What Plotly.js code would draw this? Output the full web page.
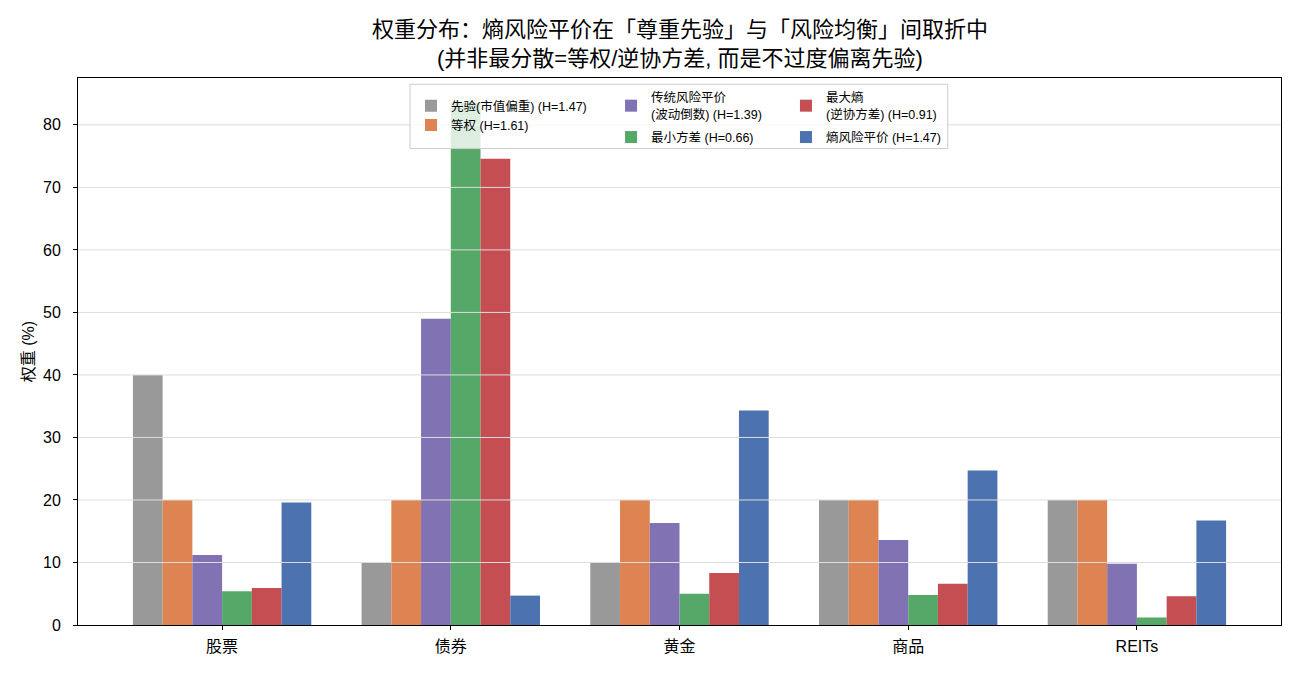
<!DOCTYPE html>
<html>
<head>
<meta charset="utf-8">
<script src="https://cdn.plot.ly/plotly-3.0.1.min.js"></script>
<style>html,body{margin:0;padding:0;background:#fff;}#chart{width:1300px;height:676px;}</style>
</head>
<body>
<div id="chart"></div>
<script>
const categories = ['股票', '债券', '黄金', '商品', 'REITs'];
const seriesNames = [
  '先验(市值偏重) (H=1.47)',
  '等权 (H=1.61)',
  '传统风险平价<br>(波动倒数) (H=1.39)',
  '最小方差 (H=0.66)',
  '最大熵<br>(逆协方差) (H=0.91)',
  '熵风险平价 (H=1.47)'
];
const priorWeights = [40, 10, 10, 20, 20];
const equalWeights = [20, 20, 20, 20, 20];
const volParityWeights = [11.2, 49.0, 16.3, 13.6, 9.8];
const minVarWeights = [5.4, 83.6, 5.0, 4.8, 1.2];
const maxEntropyWeights = [5.9, 74.6, 8.3, 6.6, 4.6];
const entropyRPWeights = [19.6, 4.7, 34.3, 24.7, 16.7];
const yTicks = [0, 10, 20, 30, 40, 50, 60, 70, 80];

const seriesValues = [priorWeights, equalWeights, volParityWeights, minVarWeights, maxEntropyWeights, entropyRPWeights];
const colors = ['#999999', '#DD8452', '#8172B3', '#55A868', '#C44E52', '#4C72B0'];
const legendIds = ['legend', 'legend', 'legend2', 'legend2', 'legend3', 'legend3'];

const FONT = 'Liberation Sans, Arial, "Noto Sans CJK SC", sans-serif';

const data = seriesValues.map((vals, i) => ({
  type: 'bar',
  x: categories,
  y: vals,
  name: seriesNames[i],
  marker: {color: colors[i], line: {width: 0}},
  legend: legendIds[i],
  legendgroup: 'g' + i,
  hoverinfo: 'x+y+name'
}));

const legendCommon = {
  orientation: 'v',
  bgcolor: 'rgba(0,0,0,0)',
  borderwidth: 0,
  font: {family: FONT, size: 12.5, color: '#000'},
  xanchor: 'left',
  yanchor: 'top',
  tracegroupgap: 0,
  itemclick: false,
  itemdoubleclick: false
};

// grid lines drawn above the bars (as in the reference), from the tick values
const gridShapes = yTicks.filter(v => v > 0).map(v => ({
  type: 'line', xref: 'paper', yref: 'y',
  x0: 0, x1: 1, y0: v, y1: v,
  line: {color: '#dddddd', width: 1},
  layer: 'above'
}));

const legendFrame = {
  type: 'rect', xref: 'paper', yref: 'paper',
  x0: 0.276, x1: 0.723, y0: 0.871, y1: 0.9885,
  fillcolor: 'rgba(255,255,255,0.8)',
  line: {color: '#cccccc', width: 1},
  layer: 'above'
};

const layout = {
  width: 1300,
  height: 676,
  paper_bgcolor: '#fff',
  plot_bgcolor: '#fff',
  font: {family: FONT, size: 16, color: '#000'},
  margin: {l: 78, r: 19, t: 78, b: 51},
  title: {
    text: '权重分布：熵风险平价在「尊重先验」与「风险均衡」间取折中<br>(并非最分散=等权/逆协方差, 而是不过度偏离先验)',
    font: {family: FONT, size: 22, color: '#000'},
    x: 0.523, xanchor: 'center',
    y: 0.945, yanchor: 'top', yref: 'container'
  },
  barmode: 'group',
  bargap: 0.22,
  bargroupgap: 0,
  xaxis: {
    range: [-0.63, 4.63],
    showgrid: false,
    showline: true, linecolor: '#000', linewidth: 1, mirror: true,
    ticks: 'outside', ticklen: 4, tickcolor: '#000',
    tickfont: {family: FONT, size: 16},
    ticklabelstandoff: 3,
    zeroline: false
  },
  yaxis: {
    range: [0, 87.5],
    tickvals: yTicks,
    showgrid: false,
    showline: true, linecolor: '#000', linewidth: 1, mirror: true,
    ticks: 'outside', ticklen: 4, tickcolor: '#000',
    tickfont: {family: FONT, size: 16},
    ticklabelstandoff: 9,
    zeroline: false,
    title: {text: '权重 (%)', font: {family: FONT, size: 16}, standoff: 4}
  },
  shapes: gridShapes.concat([legendFrame]),
  legend: Object.assign({}, legendCommon, {x: 0.2768, y: 0.976}),
  legend2: Object.assign({}, legendCommon, {x: 0.4431, y: 0.991, tracegroupgap: 4}),
  legend3: Object.assign({}, legendCommon, {x: 0.5885, y: 0.991, tracegroupgap: 4}),
  showlegend: true
};

Plotly.newPlot('chart', data, layout, {displayModeBar: false});
</script>
</body>
</html>
